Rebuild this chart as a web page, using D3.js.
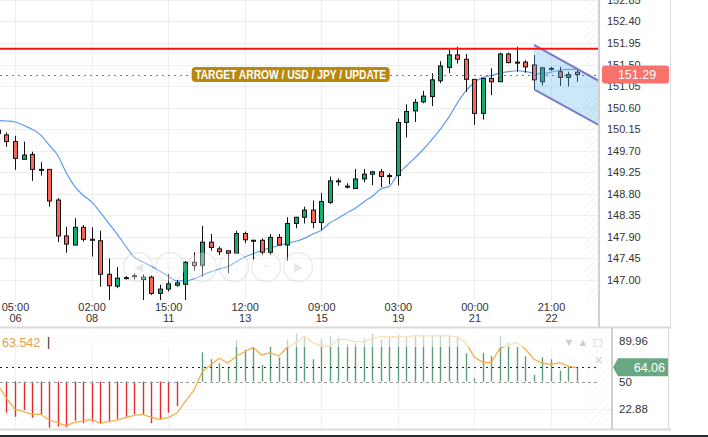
<!DOCTYPE html>
<html>
<head>
<meta charset="utf-8">
<script src="https://cdn.jsdelivr.net/npm/d3@7"></script>
<style>
  html, body { margin: 0; padding: 0; background: #fff; }
  svg { display: block; font-family: Arial, "Liberation Sans", sans-serif; }
</style>
</head>
<body>
<svg id="chart" width="708" height="437"></svg>
<script>
// candles, index 0 = first (partly hidden) bar on the left
const opens  = [150.13,150.03,149.89,149.52,149.62,149.31,149.31,148.67,147.92,147.73,148.10,147.85,147.82,147.12,146.87,147.05,147.09,147.01,147.06,146.72,146.81,146.89,146.91,147.37,147.31,147.79,147.65,147.61,147.56,147.97,147.83,147.83,147.58,147.89,147.73,148.18,148.31,148.46,148.20,148.62,149.07,148.96,148.91,149.11,149.21,149.26,149.18,149.18,150.29,150.53,150.72,150.83,151.16,151.44,151.70,151.61,151.19,150.48,151.21,151.14,151.72,151.55,151.55,151.49,151.14,151.42,151.35,151.23,151.34];
const highs  = [150.18,150.08,150.01,149.89,149.68,149.46,149.31,148.71,148.11,148.29,148.15,148.10,148.03,147.45,147.27,147.08,147.14,147.12,147.09,146.90,147.13,147.00,147.40,147.58,148.13,147.96,147.70,147.61,148.03,148.01,147.84,147.87,147.96,147.96,148.31,148.32,148.53,148.66,148.82,149.16,149.12,149.02,149.32,149.32,149.28,149.32,149.23,150.37,150.67,150.78,150.95,151.32,151.57,151.82,151.87,151.72,151.19,151.21,151.42,151.75,151.75,151.87,151.59,151.70,151.45,151.45,151.45,151.35,151.41];
const lows   = [150.02,149.78,149.30,149.52,149.07,149.18,148.53,147.79,147.57,147.73,147.80,147.49,146.86,146.52,146.83,147.01,147.01,146.52,146.69,146.52,146.76,146.86,146.52,147.19,147.07,147.61,147.52,147.14,147.56,147.77,147.43,147.52,147.52,147.73,147.40,148.08,148.18,148.08,148.04,148.59,148.97,148.91,148.91,149.04,148.98,148.94,149.00,148.98,149.98,150.30,150.69,150.63,151.11,151.32,151.52,150.93,150.24,150.35,150.86,151.14,151.52,151.35,151.33,150.98,151.06,151.37,151.05,151.04,151.14];
const closes = [150.06,149.89,149.54,149.61,149.31,149.31,148.65,147.92,147.75,148.10,147.85,147.85,147.12,146.88,147.04,147.05,147.09,147.06,146.72,146.81,146.92,146.94,147.37,147.30,147.79,147.68,147.59,147.56,147.97,147.84,147.83,147.58,147.89,147.73,148.18,148.31,148.46,148.20,148.64,149.07,149.07,148.96,149.11,149.21,149.26,149.16,149.18,150.29,150.52,150.71,150.84,151.18,151.47,151.70,151.61,151.19,150.48,151.21,151.14,151.72,151.54,151.55,151.45,151.18,151.43,151.42,151.23,151.29,151.29];
const maLine = [150.33,150.32,150.30,150.23,150.15,150.03,149.82,149.61,149.25,148.96,148.77,148.63,148.42,148.19,147.96,147.71,147.48,147.38,147.29,147.19,147.08,146.98,146.98,147.02,147.10,147.17,147.23,147.28,147.38,147.48,147.55,147.62,147.67,147.72,147.77,147.81,147.87,147.96,148.04,148.19,148.29,148.40,148.50,148.63,148.75,148.90,148.96,149.21,149.38,149.55,149.73,149.93,150.15,150.40,150.70,150.95,151.13,151.23,151.27,151.32,151.35,151.37,151.35,151.32,151.30,151.34,151.38,151.40,151.40];

// lower panel
const oscBars = [20.0,19.6,15.6,22.2,14.7,18.0,4.9,5.9,5.3,11.7,9.2,10.8,9.2,10.8,13.1,15.6,18.0,18.0,9.2,12.4,19.6,26.1,50.0,50.0,78.6,71.8,67.9,64.5,90.4,80.9,83.5,66.2,84.1,73.7,91.3,97.2,94.6,71.8,92.3,94.6,93.3,86.7,87.4,92.3,96.5,91.3,93.3,95.8,93.3,95.5,95.8,95.5,95.5,94.6,93.3,77.6,53.2,78.2,75.0,94.6,88.0,84.1,75.0,56.4,73.7,71.8,60.6,65.2,64.06];
const oscLine = [46.6,33.9,22.9,20.5,18.0,18.0,12.4,9.8,6.6,10.2,11.4,13.1,9.2,10.8,12.4,14.7,17.0,18.0,15.1,13.1,14.7,19.0,30.3,41.1,59.7,66.2,72.8,68.2,74.5,79.2,83.5,76.0,78.2,75.0,83.5,88.0,94.6,88.0,84.8,84.8,91.3,91.3,89.0,89.0,92.3,93.9,93.9,93.9,93.9,94.6,94.6,94.6,94.6,94.6,93.6,88.0,73.7,68.8,68.8,82.5,85.8,88.0,81.6,71.8,67.9,66.9,68.5,65.2,63.5];

const priceTicks = [147.00,147.45,147.90,148.35,148.80,149.25,149.70,150.15,150.60,151.05,151.50,151.95,152.40,152.85];
const timeTickIdx = [2, 11, 20, 29, 38, 47, 56, 65];
const timeLabels = ['05:00','02:00','15:00','12:00','09:00','03:00','00:00','21:00'];
const dateLabels = ['06','08','11','13','15','19','21','22'];
const oscTicks = [89.96, 50, 22.88];

const resistance = 151.83;
const lastPrice = 151.29;
const lastOsc = 64.06;
const legendValue = '63.542';
const channelIdx = [63, 70.8];
const channelUpper = [151.91, 151.14];
const channelLower = [150.98, 150.22];
const targetText = 'TARGET ARROW / USD / JPY / UPDATE';
const targetIdx = 34.4;

const svg = d3.select('#chart');
const plotW = 598, plotH = 300;

const x = d3.scaleLinear().domain([2, 65]).range([15, 551]);
const y = d3.scaleLinear().domain([147.00, 152.40]).range([280, 21.4]);
const yOsc = d3.scaleLinear().domain([22.88, 89.96]).range([409.3, 340.7]);

const defs = svg.append('defs');
defs.append('clipPath').attr('id', 'mainClip')
  .append('rect').attr('x', 0).attr('y', 0).attr('width', plotW + 1).attr('height', plotH);
defs.append('clipPath').attr('id', 'oscClip')
  .append('rect').attr('x', 0).attr('y', 329).attr('width', 611).attr('height', 99);
const hatch = defs.append('pattern').attr('id', 'hatch')
  .attr('patternUnits', 'userSpaceOnUse').attr('width', 5).attr('height', 5)
  .attr('patternTransform', 'rotate(45)');
hatch.append('line').attr('x1', 0).attr('y1', 0).attr('x2', 0).attr('y2', 5)
  .attr('stroke', '#ececec').attr('stroke-width', 1.4);

svg.append('rect').attr('width', 708).attr('height', 437).attr('fill', '#fff');

// ---- main panel
const main = svg.append('g').attr('clip-path', 'url(#mainClip)');

main.append('g').selectAll('line').data(priceTicks).join('line')
  .attr('x1', 0).attr('x2', plotW)
  .attr('y1', d => Math.round(y(d)) + 0.5).attr('y2', d => Math.round(y(d)) + 0.5)
  .attr('stroke', '#eeeeee');
main.append('g').selectAll('line').data(timeTickIdx).join('line')
  .attr('x1', d => Math.round(x(d)) + 0.5).attr('x2', d => Math.round(x(d)) + 0.5)
  .attr('y1', 0).attr('y2', plotH)
  .attr('stroke', '#eeeeee');

main.append('rect').attr('x', 585).attr('y', 0).attr('width', plotW - 585).attr('height', plotH)
  .attr('fill', 'url(#hatch)');

// moving average
main.append('path')
  .datum(maLine)
  .attr('fill', 'none')
  .attr('stroke', '#5b9bf3')
  .attr('stroke-width', 1.2)
  .attr('d', d3.line().x((d, i) => x(i)).y(d => y(d)).curve(d3.curveMonotoneX));

// candles
const candles = opens.map((o, i) => ({ i, o, h: highs[i], l: lows[i], c: closes[i] }));
const cg = main.append('g').selectAll('g').data(candles).join('g');
cg.append('line')
  .attr('x1', d => Math.round(x(d.i)) + 0.5).attr('x2', d => Math.round(x(d.i)) + 0.5)
  .attr('y1', d => y(d.h)).attr('y2', d => y(d.l))
  .attr('stroke', '#111').attr('stroke-width', 1);
cg.append('rect')
  .attr('x', d => Math.round(x(d.i)) - 1.5)
  .attr('width', 4)
  .attr('y', d => y(Math.max(d.o, d.c)))
  .attr('height', d => Math.max(1, Math.abs(y(d.o) - y(d.c))))
  .attr('fill', d => d.c > d.o ? '#14ad6c' : (d.c < d.o ? '#f9655b' : '#111'))
  .attr('stroke', '#111').attr('stroke-width', 1);

// navigation buttons
const navX = [138, 170, 202, 234, 266, 298];
const navIcons = ['\u25C0', '\u2212', '+', '\u2194', '+', '\u25B6'];
const nav = main.append('g').selectAll('g').data(navX).join('g')
  .attr('transform', d => `translate(${d},267)`);
nav.append('circle').attr('r', 14.5)
  .attr('fill', 'rgba(255,255,255,0.35)')
  .attr('stroke', 'rgba(0,0,0,0.08)').attr('stroke-width', 1.5);
nav.append('text').text((d, i) => navIcons[i])
  .attr('text-anchor', 'middle').attr('dy', '0.35em')
  .attr('font-size', 12).attr('fill', 'rgba(0,0,0,0.1)');

// channel
const chPoly = [
  [x(channelIdx[0]), y(channelUpper[0])],
  [x(channelIdx[1]), y(channelUpper[1])],
  [x(channelIdx[1]), y(channelLower[1])],
  [x(channelIdx[0]), y(channelLower[0])]
];
main.append('polygon')
  .attr('points', chPoly.map(p => p.join(',')).join(' '))
  .attr('fill', 'rgba(100,180,240,0.32)');
[channelUpper, channelLower].forEach(arr => {
  main.append('line')
    .attr('x1', x(channelIdx[0])).attr('y1', y(arr[0]))
    .attr('x2', x(channelIdx[1])).attr('y2', y(arr[1]))
    .attr('stroke', '#7c7cc6').attr('stroke-width', 2);
});

// resistance and last price
main.append('line')
  .attr('x1', 0).attr('x2', plotW)
  .attr('y1', y(resistance)).attr('y2', y(resistance))
  .attr('stroke', '#ff1010').attr('stroke-width', 2);
main.append('line')
  .attr('x1', 0).attr('x2', plotW)
  .attr('y1', Math.round(y(lastPrice)) + 0.5).attr('y2', Math.round(y(lastPrice)) + 0.5)
  .attr('stroke', '#777').attr('stroke-dasharray', '2,4');

// target label
const tg = main.append('g').attr('transform', `translate(${x(targetIdx)},${y(lastPrice)})`);
tg.append('rect').attr('x', -99).attr('y', -7.5).attr('width', 198).attr('height', 15)
  .attr('rx', 4).attr('fill', '#b8880c');
tg.append('text').text(targetText)
  .attr('text-anchor', 'middle').attr('dy', '0.36em')
  .attr('font-size', 12.5).attr('font-weight', 'bold').attr('fill', '#fff')
  .attr('textLength', 191).attr('lengthAdjust', 'spacingAndGlyphs');

// ---- price axis
svg.append('line').attr('x1', 599).attr('x2', 599).attr('y1', 0).attr('y2', 327)
  .attr('stroke', '#d0d0d0').attr('stroke-width', 2);
svg.append('line').attr('x1', 670.5).attr('x2', 670.5).attr('y1', 0).attr('y2', 327)
  .attr('stroke', '#dcdcdc');

const pAxis = svg.append('g').attr('transform', 'translate(606,0)')
  .call(d3.axisRight(y).tickValues(priceTicks).tickSize(0).tickPadding(1).tickFormat(d3.format('.2f')));
pAxis.select('.domain').remove();
pAxis.selectAll('text').attr('font-size', 11).attr('fill', '#333').attr('font-family', 'Arial, "Liberation Sans", sans-serif');

const lp = svg.append('g').attr('transform', `translate(602,${y(lastPrice)})`);
lp.append('rect').attr('x', 0).attr('y', -9).attr('width', 67).attr('height', 18)
  .attr('rx', 3).attr('fill', '#f7726a');
lp.append('text').text(lastPrice.toFixed(2))
  .attr('x', 35).attr('dy', '0.36em').attr('text-anchor', 'middle')
  .attr('font-size', 12.5).attr('fill', '#fff');

// ---- time axis
const tAxis = svg.append('g').attr('transform', 'translate(0,303)')
  .call(d3.axisBottom(x).tickValues(timeTickIdx).tickSize(0).tickPadding(0)
    .tickFormat((d, i) => timeLabels[i]));
tAxis.select('.domain').remove();
tAxis.selectAll('text').attr('font-size', 11).attr('fill', '#333').attr('font-family', 'Arial, "Liberation Sans", sans-serif');
const dAxis = svg.append('g').attr('transform', 'translate(0,314)')
  .call(d3.axisBottom(x).tickValues(timeTickIdx).tickSize(0).tickPadding(0)
    .tickFormat((d, i) => dateLabels[i]));
dAxis.select('.domain').remove();
dAxis.selectAll('text').attr('font-size', 11).attr('fill', '#333').attr('font-family', 'Arial, "Liberation Sans", sans-serif');

// separators
svg.append('line').attr('x1', 0).attr('x2', 671).attr('y1', 327.5).attr('y2', 327.5)
  .attr('stroke', '#dadada').attr('stroke-width', 2);
svg.append('line').attr('x1', 0).attr('x2', 671).attr('y1', 429.5).attr('y2', 429.5)
  .attr('stroke', '#dadada').attr('stroke-width', 2);
svg.append('rect').attr('x', 0).attr('y', 435).attr('width', 708).attr('height', 2)
  .attr('fill', '#1d2f35');

// ---- lower panel
const osc = svg.append('g').attr('clip-path', 'url(#oscClip)');
osc.append('g').selectAll('line').data(timeTickIdx).join('line')
  .attr('x1', d => Math.round(x(d)) + 0.5).attr('x2', d => Math.round(x(d)) + 0.5)
  .attr('y1', 329).attr('y2', 428)
  .attr('stroke', '#f0f0f0');
osc.append('g').selectAll('line').data([89.96, 22.88]).join('line')
  .attr('x1', 0).attr('x2', 611)
  .attr('y1', d => Math.round(yOsc(d)) + 0.5).attr('y2', d => Math.round(yOsc(d)) + 0.5)
  .attr('stroke', '#f0f0f0');
osc.append('rect').attr('x', 585).attr('y', 329).attr('width', 24).attr('height', 99)
  .attr('fill', 'url(#hatch)').attr('opacity', 0.7);

osc.append('g').selectAll('line').data(oscBars).join('line')
  .attr('x1', (d, i) => Math.round(x(i)) + 0.5).attr('x2', (d, i) => Math.round(x(i)) + 0.5)
  .attr('y1', yOsc(50)).attr('y2', d => yOsc(d))
  .attr('stroke', d => d >= 50 ? '#5a9e77' : '#e42b2b')
  .attr('stroke-width', 1.4);

osc.append('line').attr('x1', 0).attr('x2', 600)
  .attr('y1', Math.round(yOsc(50)) + 0.5).attr('y2', Math.round(yOsc(50)) + 0.5)
  .attr('stroke', '#9a9a9a').attr('stroke-dasharray', '3,3');
osc.append('line').attr('x1', 0).attr('x2', 600)
  .attr('y1', Math.round(yOsc(lastOsc)) + 0.5).attr('y2', Math.round(yOsc(lastOsc)) + 0.5)
  .attr('stroke', '#222').attr('stroke-dasharray', '2,4');

osc.append('path')
  .datum(oscLine)
  .attr('fill', 'none')
  .attr('stroke', '#f6ae4c')
  .attr('stroke-width', 1.3)
  .attr('d', d3.line().x((d, i) => x(i)).y(d => yOsc(d)));

// legend band fades the top of the panel
osc.append('rect').attr('x', 0).attr('y', 329).attr('width', 611).attr('height', 18)
  .attr('fill', 'rgba(255,255,255,0.6)');
svg.append('text').text(legendValue).attr('x', 2).attr('y', 347)
  .attr('font-size', 12.5).attr('fill', '#e3a04c');
svg.append('text').text('|').attr('x', 47).attr('y', 346)
  .attr('font-size', 12).attr('fill', '#111');

// panel icons
const icons = [['\u25BC', 569, 346], ['\u25B2', 583, 346], ['\u2610', 598, 347], ['\u2715', 598, 364]];
svg.append('g').selectAll('text').data(icons).join('text')
  .text(d => d[0]).attr('x', d => d[1]).attr('y', d => d[2])
  .attr('text-anchor', 'middle').attr('font-size', 11).attr('fill', '#cfcfcf');

// lower axis
svg.append('line').attr('x1', 612).attr('x2', 612).attr('y1', 328).attr('y2', 429)
  .attr('stroke', '#d0d0d0').attr('stroke-width', 2);
svg.append('line').attr('x1', 668.5).attr('x2', 668.5).attr('y1', 328).attr('y2', 429)
  .attr('stroke', '#dcdcdc');
const oAxis = svg.append('g').attr('transform', 'translate(617,0)')
  .call(d3.axisRight(yOsc).tickValues(oscTicks).tickSize(0).tickPadding(2)
    .tickFormat(d => d === 50 ? '50' : d.toFixed(2)));
oAxis.select('.domain').remove();
oAxis.selectAll('text').attr('font-size', 11.5).attr('fill', '#333').attr('font-family', 'Arial, "Liberation Sans", sans-serif');

const lo = svg.append('g').attr('transform', `translate(613,${yOsc(lastOsc)})`);
lo.append('path').attr('d', 'M0,0 L5,-9 L55,-9 L55,9 L5,9 Z').attr('fill', '#69a783');
lo.append('text').text(lastOsc.toFixed(2))
  .attr('x', 52).attr('dy', '0.36em').attr('text-anchor', 'end')
  .attr('font-size', 12.5).attr('fill', '#fff');
</script>
</body>
</html>
